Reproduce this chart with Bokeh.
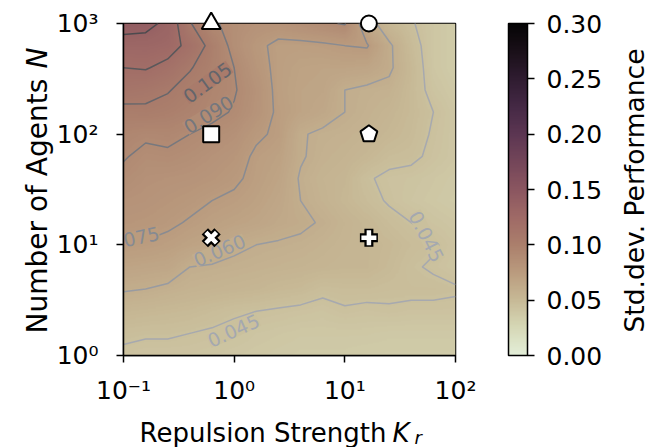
import numpy as np
import contourpy
from bokeh.core.properties import value
from bokeh.embed import file_html
from bokeh.models import (ColorBar, ColumnDataSource, CustomJSTickFormatter, FixedTicker,
                          LinearColorMapper, PrintfTickFormatter)
from bokeh.plotting import figure
from bokeh.resources import INLINE

# ---------------------------------------------------------------- data
# log-spaced parameter sweep
repulsion_k = [0.1, 0.1585, 0.2512, 0.3981, 0.631, 1.0, 1.585, 2.512,
               3.981, 6.31, 10.0, 15.85, 25.12, 39.81, 63.1, 100.0]
agents_n = [1.0, 1.585, 2.512, 3.981, 6.31, 10.0, 15.85, 25.12,
            39.81, 63.1, 100.0, 158.5, 251.2, 398.1, 631.0, 1000.0]

# std. dev. of performance: one row per agent count (ascending N), one column per K_r
std_performance = [
    [0.043, 0.042, 0.042, 0.042, 0.041, 0.040, 0.039, 0.038, 0.037, 0.037, 0.037, 0.036, 0.036, 0.036, 0.036, 0.036],
    [0.047, 0.046, 0.046, 0.045, 0.044, 0.043, 0.041, 0.040, 0.039, 0.039, 0.039, 0.039, 0.038, 0.038, 0.038, 0.038],
    [0.053, 0.052, 0.051, 0.050, 0.048, 0.046, 0.045, 0.044, 0.043, 0.042, 0.044, 0.043, 0.044, 0.043, 0.043, 0.043],
    [0.061, 0.060, 0.058, 0.056, 0.055, 0.054, 0.053, 0.051, 0.050, 0.047, 0.048, 0.048, 0.047, 0.047, 0.047, 0.046],
    [0.068, 0.067, 0.066, 0.060, 0.059, 0.058, 0.057, 0.056, 0.055, 0.054, 0.053, 0.053, 0.050, 0.046, 0.044, 0.041],
    [0.075, 0.074, 0.072, 0.069, 0.067, 0.062, 0.060, 0.059, 0.058, 0.056, 0.054, 0.053, 0.051, 0.048, 0.046, 0.042],
    [0.080, 0.079, 0.077, 0.074, 0.071, 0.069, 0.067, 0.064, 0.062, 0.059, 0.055, 0.052, 0.048, 0.045, 0.042, 0.040],
    [0.083, 0.082, 0.080, 0.078, 0.075, 0.073, 0.070, 0.066, 0.060, 0.056, 0.052, 0.048, 0.044, 0.041, 0.039, 0.037],
    [0.087, 0.084, 0.083, 0.082, 0.080, 0.077, 0.072, 0.068, 0.059, 0.055, 0.053, 0.046, 0.043, 0.042, 0.040, 0.038],
    [0.091, 0.087, 0.088, 0.086, 0.083, 0.080, 0.073, 0.070, 0.061, 0.057, 0.055, 0.052, 0.048, 0.047, 0.043, 0.040],
    [0.094, 0.092, 0.093, 0.090, 0.087, 0.084, 0.077, 0.073, 0.061, 0.058, 0.057, 0.055, 0.052, 0.049, 0.044, 0.040],
    [0.101, 0.102, 0.100, 0.097, 0.093, 0.089, 0.082, 0.073, 0.068, 0.065, 0.060, 0.057, 0.054, 0.050, 0.045, 0.040],
    [0.112, 0.110, 0.106, 0.100, 0.095, 0.091, 0.083, 0.072, 0.068, 0.067, 0.060, 0.058, 0.057, 0.050, 0.042, 0.038],
    [0.120, 0.121, 0.116, 0.106, 0.098, 0.090, 0.080, 0.072, 0.069, 0.068, 0.068, 0.067, 0.062, 0.051, 0.040, 0.036],
    [0.128, 0.128, 0.126, 0.116, 0.100, 0.086, 0.078, 0.072, 0.072, 0.073, 0.075, 0.076, 0.062, 0.049, 0.040, 0.036],
    [0.142, 0.140, 0.131, 0.106, 0.092, 0.086, 0.083, 0.082, 0.085, 0.088, 0.091, 0.066, 0.052, 0.046, 0.040, 0.036],
]

contour_levels = [0.045, 0.060, 0.075, 0.090, 0.105, 0.120, 0.135]

# levels that carry an inline label
label_levels = [0.105, 0.090, 0.075, 0.060, 0.045, 0.045]

# highlighted configurations (K_r, N)
marker_k = [0.62, 16.5, 0.62, 16.5, 0.62, 16.5]
marker_n = [1000, 1000, 100, 100, 11.6, 11.6]

cbar_ticks = [0.00, 0.05, 0.10, 0.15, 0.20, 0.25, 0.30]

# ---------------------------------------------------------------- styling
FONT = "DejaVu Sans"
FRAME_L, FRAME_R, FRAME_T, FRAME_B = 123, 455, 23, 355
W, H = 653, 447

cmap_stops = ["#e3eed8", "#d6d8b6", "#c7b996", "#ba9b7e", "#ab7f6c", "#9f6a66", "#8b5660",
              "#744659", "#5c3652", "#452945", "#2f1c31", "#1a1019", "#050405"]
level_colors = ["#a4a8b0", "#969aa2", "#868a92", "#74777e", "#63656b", "#55565b", "#48494d"]

# inline label placement (pixel centre, rotation in degrees)
label_px = [(207, 82), (208, 114), (132, 238), (219, 250), (233, 330), (426, 236)]
label_rot = [36, 32, 12, 23, 24, -63]


def k_at(px):
    return 10 ** (-1 + 3 * (px - FRAME_L) / (FRAME_R - FRAME_L))


def n_at(py):
    return 10 ** (3 * (FRAME_B - py) / (FRAME_B - FRAME_T))


def build_palette(stops, n=256):
    rgb = np.array([[int(s[i:i + 2], 16) for i in (1, 3, 5)] for s in stops], float)
    t = np.linspace(0, 1, len(stops))
    tt = np.linspace(0, 1, n)
    cols = np.stack([np.interp(tt, t, rgb[:, c]) for c in range(3)], axis=1)
    return ["#%02x%02x%02x" % tuple(int(round(v)) for v in row) for row in cols]


def smooth_for_display(z, f):
    """Bilinear resampling of the grid for display (like imshow's bilinear mode)."""
    ny, nx = z.shape
    xi = np.linspace(0, nx - 1, (nx - 1) * f + 1)
    yi = np.linspace(0, ny - 1, (ny - 1) * f + 1)
    rows = np.array([np.interp(xi, np.arange(nx), r) for r in z])
    return np.array([np.interp(yi, np.arange(ny), c) for c in rows.T]).T


palette = build_palette(cmap_stops)
mapper = LinearColorMapper(palette=palette, low=0.0, high=0.3)


def color_of(v):
    return palette[int(round(v / 0.3 * (len(palette) - 1)))]


p = figure(width=W, height=H, x_axis_type="log", y_axis_type="log",
           x_range=(0.1, 100), y_range=(1, 1000),
           output_backend="svg", toolbar_location=None,
           min_border_left=FRAME_L, min_border_right=W - FRAME_R,
           min_border_top=FRAME_T, min_border_bottom=H - FRAME_B)
p.grid.visible = False
p.outline_line_color = "black"
p.outline_line_width = 1.5
p.background_fill_color = "white"
p.border_fill_color = "white"

# ---------------------------------------------------------------- heat map
Z = np.array(std_performance)
lk = np.log10(repulsion_k)
ln = np.log10(agents_n)
Zs = smooth_for_display(Z, 20)
p.image(image=[Zs], x=repulsion_k[0], y=agents_n[0],
        dw=repulsion_k[-1] - repulsion_k[0], dh=agents_n[-1] - agents_n[0],
        color_mapper=mapper)

# ---------------------------------------------------------------- contours
gen = contourpy.contour_generator(x=lk, y=ln, z=Z)
for lev, col in zip(contour_levels, level_colors):
    segs = gen.lines(lev)
    xs = [list(10 ** s[:, 0]) for s in segs]
    ys = [list(10 ** s[:, 1]) for s in segs]
    if xs:
        p.multi_line(xs, ys, line_color=col, line_width=1.5, line_alpha=0.95)

lab_src = ColumnDataSource(dict(
    x=[k_at(px) for px, _ in label_px],
    y=[n_at(py) for _, py in label_px],
    text=["%.3f" % v for v in label_levels],
    angle=list(np.radians(label_rot)),
    color=[level_colors[contour_levels.index(v)] for v in label_levels],
    bg=[color_of(v) for v in label_levels],
))
p.text(x="x", y="y", text="text", angle="angle", source=lab_src,
       text_color="color", text_font=value(FONT), text_font_size="19px",
       text_align="center", text_baseline="middle",
       background_fill_color="bg")

# ---------------------------------------------------------------- markers
marker_renderers = []
marker_renderers.append(p.scatter([marker_k[0]], [marker_n[0]], marker="triangle", size=19,
                                  fill_color="white", line_color="black", line_width=2))
marker_renderers.append(p.scatter([marker_k[1]], [marker_n[1]], marker="circle", size=16,
                                  fill_color="white", line_color="black", line_width=2))
marker_renderers.append(p.scatter([marker_k[2]], [marker_n[2]], marker="square", size=16,
                                  fill_color="white", line_color="black", line_width=2))
# pentagon drawn as a regular polygon in log space (equal px per decade on both axes)
r_dec = 0.08
ang = np.radians(90 + 72 * np.arange(5))
pk = 10 ** (np.log10(marker_k[3]) + r_dec * np.cos(ang))
pn = 10 ** (np.log10(marker_n[3]) + r_dec * np.sin(ang))
marker_renderers.append(p.patch(list(pk), list(pn), fill_color="white",
                                line_color="black", line_width=2))
for i, mk, sz_o, sz_i in ((4, "x", 18, 15), (5, "cross", 18, 15)):
    marker_renderers.append(p.scatter([marker_k[i]], [marker_n[i]], marker=mk, size=sz_o,
                                      line_color="black", line_width=9))
    marker_renderers.append(p.scatter([marker_k[i]], [marker_n[i]], marker=mk, size=sz_i,
                                      line_color="white", line_width=4.5))
for r in marker_renderers:
    r.level = "overlay"

# ---------------------------------------------------------------- axes
sup_js = """
const e = Math.round(Math.log10(tick));
const sup = {"-1": "\u207b\u00b9", "0": "\u2070", "1": "\u00b9", "2": "\u00b2", "3": "\u00b3"};
return "10" + sup[String(e)];
"""
p.xaxis.ticker = FixedTicker(ticks=[0.1, 1, 10, 100], minor_ticks=[])
p.yaxis.ticker = FixedTicker(ticks=[1, 10, 100, 1000], minor_ticks=[])
for ax in (p.xaxis[0], p.yaxis[0]):
    ax.formatter = CustomJSTickFormatter(code=sup_js)
    ax.major_label_text_font = FONT
    ax.major_label_text_font_size = "25px"
    ax.major_label_text_color = "black"
    ax.axis_line_color = "black"
    ax.axis_line_width = 1.5
    ax.major_tick_line_color = "black"
    ax.major_tick_line_width = 1.5
    ax.major_tick_out = 7
    ax.major_tick_in = 0
    ax.minor_tick_out = 0
    ax.minor_tick_in = 0
    ax.minor_tick_line_color = None
p.xaxis.major_label_standoff = 13
p.yaxis.major_label_standoff = 18

# axis titles with italic symbols (overlay-level text is not clipped to the frame)
title_src = ColumnDataSource(dict(
    x=[k_at(386), k_at(392), k_at(414), k_at(37), k_at(37), k_at(634)],
    y=[n_at(432), n_at(432), n_at(437), n_at(333), n_at(47), n_at(190)],
    text=["Repulsion Strength", "K", "r", "Number of Agents", "N", "Std.dev. Performance"],
    angle=[0, 0, 0, np.pi / 2, np.pi / 2, np.pi / 2],
    align=["right", "left", "left", "left", "right", "center"],
    style=["normal", "italic", "italic", "normal", "italic", "normal"],
    size=["26px", "26px", "18px", "28px", "28px", "26.5px"],
))
t = p.text(x="x", y="y", text="text", angle="angle", text_align="align",
           text_font_style="style", text_font_size="size", source=title_src,
           text_font=value(FONT), text_color="black", text_baseline="alphabetic")
t.level = "overlay"

# ---------------------------------------------------------------- colour bar
cb = ColorBar(color_mapper=mapper, ticker=FixedTicker(ticks=cbar_ticks),
              formatter=PrintfTickFormatter(format="%.2f"),
              width=19, height=FRAME_B - FRAME_T, padding=0, margin=0,
              location=(53, 0),
              major_label_text_font=FONT, major_label_text_font_size="25px",
              major_label_text_color="black", label_standoff=12,
              major_tick_out=7, major_tick_in=0, major_tick_line_color="black",
              major_tick_line_width=1.5, minor_tick_line_color=None,
              bar_line_color="black", bar_line_width=1.5,
              border_line_color=None, background_fill_color=None)
p.add_layout(cb, "right")

open("out.html", "w").write(file_html(p, INLINE))
